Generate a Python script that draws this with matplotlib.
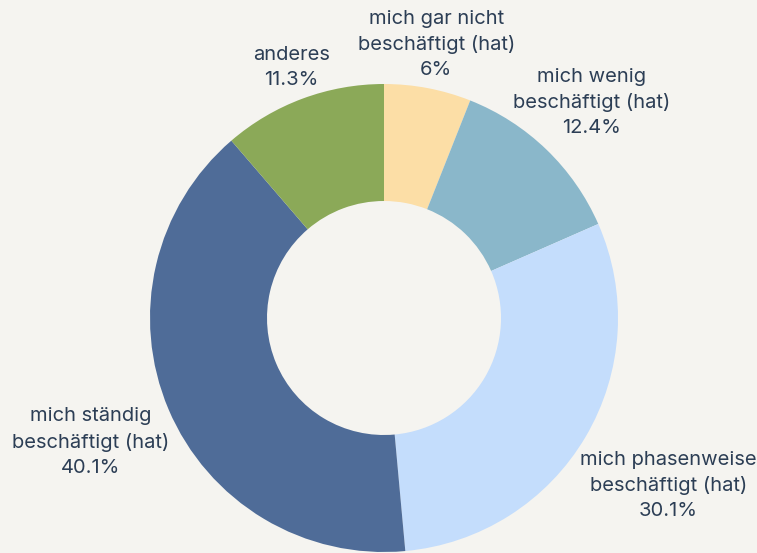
import numpy as np
import matplotlib.pyplot as plt

# data
labels = ["mich gar nicht\nbeschäftigt (hat)", "mich wenig\nbeschäftigt (hat)",
          "mich phasenweise\nbeschäftigt (hat)", "mich ständig\nbeschäftigt (hat)", "anderes"]
values = [6, 12.4, 30.1, 40.1, 11.3]
colors = ["#FCDEA6", "#8AB7CA", "#C4DDFC", "#4F6C98", "#8BA958"]

# how far out each label sits (in radii)
label_r = [1.19, 1.28, 1.41, 1.36, 1.14]

bg = "#F5F4F0"
txt = "#2C3E55"

fig = plt.figure(figsize=(7.57, 5.53), dpi=100, facecolor=bg)
ax = fig.add_axes([0, 0, 1, 1])
ax.set_facecolor(bg)

wedges, _ = ax.pie(values, colors=colors, startangle=90, counterclock=False,
                   radius=1, wedgeprops=dict(width=0.5, linewidth=0))

for w, lab, v, r in zip(wedges, labels, values, label_r):
    ang = np.deg2rad((w.theta1 + w.theta2) / 2)
    ax.text(r * np.cos(ang), r * np.sin(ang), f"{lab}\n{v:g}%",
            ha="center", va="center", fontsize=14.5, color=txt,
            family="Inter", linespacing=1.5)

ax.set_xlim(-384 / 234, 373 / 234)
ax.set_ylim(-235 / 234, 318 / 234)
ax.set_aspect("auto")
ax.axis("off")

fig.savefig("out.png", dpi=100, facecolor=bg)
